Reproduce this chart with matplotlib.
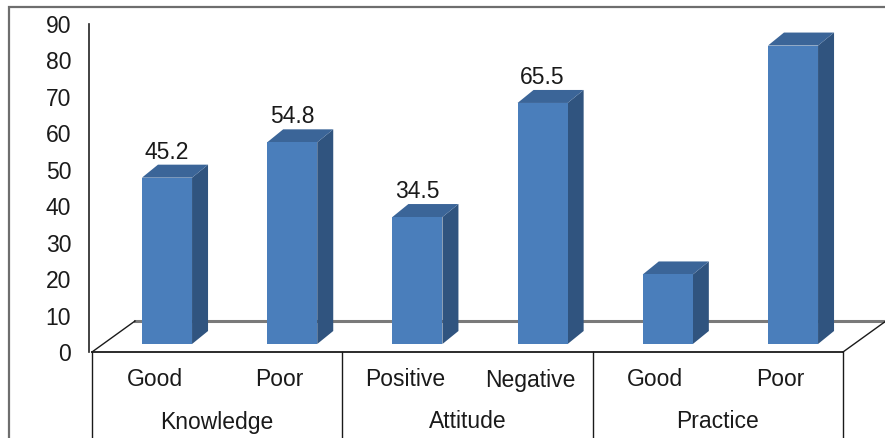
import matplotlib
matplotlib.use("Agg")
import matplotlib.pyplot as plt
from matplotlib.patches import Polygon, Rectangle
from matplotlib.lines import Line2D

# ---- data ----
groups = ["Knowledge", "Attitude", "Practice"]
categories = ["Good", "Poor", "Positive", "Negative", "Good", "Poor"]
values = [45.2, 54.8, 34.5, 65.5, 18.9, 81.1]
value_labels = ["45.2", "54.8", "34.5", "65.5", "", ""]
yticks = [0, 10, 20, 30, 40, 50, 60, 70, 80, 90]

plt.rcParams['font.family'] = ['Liberation Sans', 'DejaVu Sans']
FS = 16.5

W, H = 885, 438
fig = plt.figure(figsize=(W / 100, H / 100), dpi=100)

def fig_rect(left_px, right_px, top_px, bottom_px):
    return [left_px / W, 1 - bottom_px / H, (right_px - left_px) / W, (bottom_px - top_px) / H]

# outer frame
fig.patches.append(Rectangle((9 / W, -0.1), 2.0, 1 - 7 / H + 0.1, transform=fig.transFigure,
                             fill=False, edgecolor="#6e6e6e", linewidth=1.6, zorder=0))

# ---- frame axes (value axis, floor, category labels) ----
FL, FR, F0, F90 = 92, 843, 352, 24
axf = fig.add_axes(fig_rect(FL, FR, F90, F0))
axf.set_xlim(-0.5, len(categories) - 0.5)
axf.set_ylim(0, 90)
axf.patch.set_alpha(0)
for s in ["top", "right", "bottom"]:
    axf.spines[s].set_visible(False)
axf.spines["left"].set_position(("outward", 2))
axf.spines["left"].set_linewidth(1.2)
axf.spines["left"].set_color("#222222")
axf.set_xticks([])
axf.set_yticks(yticks)
axf.tick_params(axis="y", length=0, pad=13, labelsize=FS, labelcolor="#1a1a1a")

px_x = (FR - FL) / len(categories)
px_y = (F0 - F90) / 90.0
floor_dx = 43 / px_x
floor_dy = 31 / px_y
x0, x1 = -0.5, len(categories) - 0.5
# floor back edge
axf.add_line(Line2D([x0 + floor_dx, x1 + floor_dx], [floor_dy, floor_dy], color="#7a7a7a",
                    linewidth=2.2, clip_on=False, zorder=1))
# floor front edge and sides
axf.add_line(Line2D([x0, x1], [0, 0], color="#1a1a1a", linewidth=1.3, clip_on=False, zorder=3))
axf.add_line(Line2D([x0, x0 + floor_dx], [0, floor_dy], color="#1a1a1a", linewidth=1.0, clip_on=False, zorder=3))
axf.add_line(Line2D([x1, x1 + floor_dx], [0, floor_dy], color="#1a1a1a", linewidth=1.0, clip_on=False, zorder=3))

# category and group labels
tr = axf.get_xaxis_transform()
cat_y = (F0 - 380) / (F0 - F90)
grp_y = (F0 - 422) / (F0 - F90)
sep_bottom = (F0 - 440) / (F0 - F90)
for i, c in enumerate(categories):
    axf.text(i, cat_y, c, transform=tr, ha="center", va="center", fontsize=FS, color="#1a1a1a", clip_on=False)
n_per = len(categories) // len(groups)
for g, name in enumerate(groups):
    axf.text(g * n_per + (n_per - 1) / 2, grp_y, name, transform=tr, ha="center", va="center",
             fontsize=FS, color="#1a1a1a", clip_on=False)
for g in range(len(groups) + 1):
    xs = g * n_per - 0.5
    axf.add_line(Line2D([xs, xs], [0, sep_bottom], transform=tr, color="#1a1a1a", linewidth=1.0, clip_on=False))

# ---- bar axes ----
BL, BR, B0, BTOP = 104.4, 855.6, 344, 344 - 90 * 3.68
axb = fig.add_axes(fig_rect(BL, BR, BTOP, B0))
axb.set_xlim(-0.5, len(categories) - 0.5)
axb.set_ylim(0, 90)
axb.axis("off")
axb.patch.set_alpha(0)

bw = 0.4
bpx_x = (BR - BL) / len(categories)
bpx_y = 3.68
ddx = 16 / bpx_x
ddy = 13 / bpx_y
front_c = "#4A7EBB"
side_c = "#30547F"
top_c = "#3B6598"
for i, v in enumerate(values):
    l, r = i - bw / 2, i + bw / 2
    axb.add_patch(Polygon([(r, 0), (r + ddx, ddy), (r + ddx, v + ddy), (r, v)], closed=True,
                          facecolor=side_c, edgecolor="none", clip_on=False, zorder=2))
    axb.add_patch(Polygon([(l, v), (r, v), (r + ddx, v + ddy), (l + ddx, v + ddy)], closed=True,
                          facecolor=top_c, edgecolor="none", clip_on=False, zorder=2))
axb.bar(range(len(values)), values, width=bw, color=front_c, edgecolor="none", zorder=3)
for i, (v, lab) in enumerate(zip(values, value_labels)):
    if lab:
        axb.annotate(lab, (i, v), xytext=(0, 10), textcoords="offset points", ha="center", va="bottom",
                     fontsize=FS, color="#1a1a1a", annotation_clip=False)

fig.savefig("out.png", dpi=100)
